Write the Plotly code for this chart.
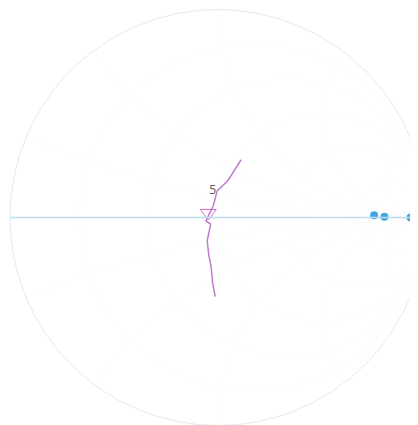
import plotly.graph_objects as go

# magenta trace (normalised impedance)
mag_re = [1.05, 1.03, 0.96, 0.95, 0.89, 0.93, 0.88, 0.86, 0.84, 0.78, 0.73]
mag_im = [0.64, 0.38, 0.25, 0.11, -0.03, -0.06, -0.20, -0.32, -0.42, -0.55, -0.65]

# triangle marker
tri_re = [0.91]
tri_im = [0.04]

# blue points near open circuit
blue_re = [7.0, 9.0, 26.0, 5.4, 1.5]
blue_im = [0.36, 0.2, 0.0, 22.0, -14.0]

# label point
lbl_re = [0.92]
lbl_im = [0.24]
lbl_txt = ["5"]

fig = go.Figure()
fig.add_trace(go.Scattersmith(
    real=mag_re, imag=mag_im, mode="lines",
    line=dict(color="#b55bc4", width=1.5),
    opacity=0.8, showlegend=False
))
fig.add_trace(go.Scattersmith(
    real=tri_re, imag=tri_im, mode="markers",
    marker=dict(symbol="triangle-down-open", color="#d070d0", size=14),
    showlegend=False
))
fig.add_trace(go.Scattersmith(
    real=blue_re, imag=blue_im, mode="markers",
    marker=dict(color="#3fa9dc", size=8),
    showlegend=False
))
fig.add_trace(go.Scattersmith(
    real=lbl_re, imag=lbl_im, mode="text", text=lbl_txt,
    textfont=dict(color="#555555", size=12),
    showlegend=False
))

fig.update_layout(
    template="plotly_white",
    width=418, height=425,
    margin=dict(l=2, r=0, t=0, b=6),
    smith=dict(
        realaxis=dict(showticklabels=False, gridcolor="#fbfcfe",
                      linecolor="#bcdcf2", linewidth=1.5),
        imaginaryaxis=dict(showticklabels=False, gridcolor="#fbfcfe",
                           linecolor="#e3eaf3"),
    ),
)

fig.write_html("out.html")
